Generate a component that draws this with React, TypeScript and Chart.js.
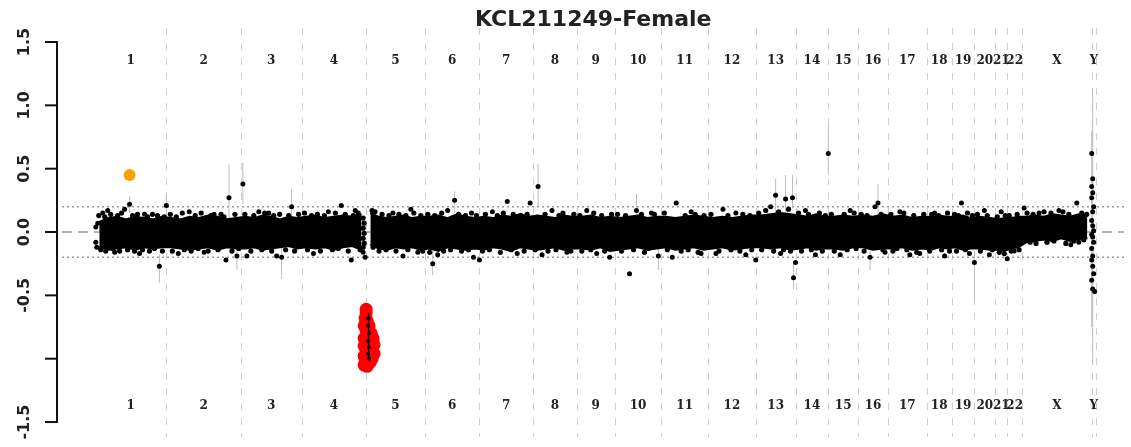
import React, { useEffect, useRef } from 'react';
import { Chart, registerables } from 'chart.js';

Chart.register(...registerables);

const TITLE = 'KCL211249-Female';

const chromosomes = ['1', '2', '3', '4', '5', '6', '7', '8', '9', '10', '11', '12', '13', '14', '15', '16', '17', '18', '19', '20', '21', '22', 'X', 'Y'];
// number of bins per chromosome
const chromosomeBins = [72, 75, 61, 65, 59, 55, 54, 44, 38, 47, 47, 48, 40, 33, 30, 30, 39, 25, 23, 21, 12, 15, 70, 4];

// upper / lower edge of the dense cloud of bins, per chromosome
const bandUpper: number[][] = [
  [0.08, 0.11, 0.12, 0.10, 0.12, 0.11, 0.10, 0.12],
  [0.11, 0.10, 0.12, 0.11, 0.13, 0.12, 0.10, 0.11],
  [0.12, 0.11, 0.13, 0.12, 0.10, 0.12, 0.11],
  [0.12, 0.13, 0.11, 0.12, 0.13, 0.12, 0.14],
  [0.15, 0.12, 0.11, 0.12, 0.13, 0.11, 0.12],
  [0.12, 0.13, 0.11, 0.14, 0.12, 0.11],
  [0.12, 0.11, 0.13, 0.12, 0.14, 0.12],
  [0.13, 0.12, 0.11, 0.13, 0.12],
  [0.12, 0.13, 0.11, 0.12],
  [0.11, 0.12, 0.13, 0.11, 0.12],
  [0.12, 0.11, 0.12, 0.13, 0.12],
  [0.11, 0.12, 0.11, 0.12, 0.13],
  [0.13, 0.14, 0.15, 0.14],
  [0.13, 0.12, 0.14, 0.12],
  [0.12, 0.13, 0.12],
  [0.13, 0.12, 0.14],
  [0.12, 0.13, 0.11, 0.12],
  [0.12, 0.13, 0.12],
  [0.12, 0.13, 0.11],
  [0.12, 0.11],
  [0.10, 0.11],
  [0.11, 0.12],
  [0.12, 0.13, 0.12, 0.14, 0.13, 0.12, 0.14, 0.13],
  [],
];
const bandLower: number[][] = [
  [-0.12, -0.14, -0.13, -0.12, -0.14, -0.12, -0.13, -0.12],
  [-0.12, -0.13, -0.14, -0.13, -0.12, -0.14, -0.12, -0.13],
  [-0.13, -0.12, -0.14, -0.13, -0.12, -0.11, -0.13],
  [-0.12, -0.13, -0.12, -0.14, -0.12, -0.11, -0.14],
  [-0.10, -0.13, -0.14, -0.12, -0.13, -0.12, -0.14],
  [-0.13, -0.15, -0.12, -0.13, -0.14, -0.13],
  [-0.14, -0.12, -0.13, -0.15, -0.12, -0.13],
  [-0.14, -0.13, -0.12, -0.14, -0.13],
  [-0.13, -0.14, -0.12, -0.15],
  [-0.14, -0.13, -0.12, -0.14, -0.13],
  [-0.12, -0.14, -0.13, -0.12, -0.14],
  [-0.13, -0.12, -0.14, -0.13, -0.12],
  [-0.12, -0.13, -0.12, -0.14],
  [-0.13, -0.12, -0.14, -0.13],
  [-0.13, -0.14, -0.12],
  [-0.12, -0.14, -0.13],
  [-0.13, -0.12, -0.14, -0.13],
  [-0.14, -0.12, -0.13],
  [-0.12, -0.14, -0.13],
  [-0.13, -0.14],
  [-0.14, -0.15],
  [-0.13, -0.12],
  [-0.08, -0.07, -0.06, -0.07, -0.05, -0.07, -0.06, -0.05],
  [],
];
const bandBreakAfter = ['4'];

// bins sitting on the rim of the dense cloud: [bin position, log2 ratio]
const rimBins: number[][] = [
  [4, 0.13], [6, -0.14], [10, 0.12], [11, -0.15], [16, 0.14], [18, -0.13], [23, 0.13], [25, -0.15], [27, 0.15], [33, -0.14], [38, 0.13], [40, -0.15], [43, 0.14], [48, -0.14], [53, 0.12], [55, -0.15], [58, 0.14], [60, -0.13], [63, 0.13], [68, -0.15], [70, 0.12],
  [76, 0.14], [78, -0.15], [82, 0.12], [88, 0.15], [90, -0.14], [97, -0.15], [101, 0.13], [104, -0.13], [107, 0.15], [114, -0.15], [117, 0.13], [124, -0.14], [127, 0.14], [130, 0.12], [138, -0.15], [141, 0.14], [145, -0.13],
  [151, 0.14], [157, -0.15], [160, 0.13], [168, -0.14], [171, 0.15], [178, -0.15], [180, 0.13], [186, 0.14], [192, -0.14], [195, 0.13], [201, -0.15], [205, 0.14],
  [211, 0.15], [214, -0.14], [218, 0.13], [224, 0.14], [227, -0.15], [231, 0.13], [239, -0.14], [242, 0.15], [245, -0.13], [252, 0.14], [255, -0.15], [260, 0.13], [265, 0.15], [267, -0.14],
  [270, 0.11], [271, 0.07], [270, 0.03], [271, -0.01], [270, -0.05], [271, -0.09], [270, -0.12],
  [279, 0.17], [280, -0.12], [286, -0.15], [289, 0.14], [293, -0.14], [296, 0.13], [303, -0.15], [306, 0.14], [313, 0.13], [315, -0.14], [321, 0.15], [328, 0.13], [330, -0.15],
  [335, 0.14], [337, -0.16], [342, 0.13], [349, 0.15], [351, -0.15], [358, -0.14], [366, 0.14], [369, -0.15], [373, 0.13], [376, -0.14], [379, 0.15], [384, 0.13],
  [390, -0.15], [393, 0.14], [397, -0.14], [405, 0.13], [408, -0.16], [411, 0.15], [419, -0.14], [421, 0.14], [429, 0.13], [432, -0.15], [435, 0.14],
  [443, -0.14], [453, 0.14], [456, -0.15], [464, -0.14], [467, 0.13], [471, 0.15], [479, -0.15], [482, 0.14],
  [488, 0.13], [490, -0.15], [499, -0.14], [502, 0.15], [510, 0.13], [513, -0.15], [520, 0.14],
  [526, 0.14], [530, -0.15], [534, 0.13], [542, -0.14], [550, 0.14], [553, -0.16], [557, -0.13], [563, 0.14],
  [573, 0.15], [576, -0.14], [590, -0.15], [594, 0.13], [597, -0.14], [604, 0.14], [607, -0.16], [613, 0.13],
  [620, 0.14], [628, -0.15], [637, 0.13], [640, -0.14], [649, -0.15], [652, 0.14], [659, 0.13], [661, -0.14],
  [668, 0.15], [671, -0.14], [675, 0.17], [683, -0.15], [688, 0.16], [693, -0.14], [698, 0.18], [700, -0.15],
  [708, 0.15], [711, -0.15], [718, 0.14], [721, -0.14], [729, 0.15], [732, -0.15], [735, 0.13],
  [741, 0.14], [744, -0.15], [754, 0.14], [757, -0.14], [764, 0.15], [766, -0.13],
  [771, 0.14], [774, -0.15], [777, 0.13], [791, 0.14], [793, -0.14],
  [801, 0.14], [803, -0.15], [807, -0.13], [814, 0.15], [817, -0.14], [824, 0.13], [827, -0.16], [834, 0.14],
  [840, -0.15], [842, 0.14], [849, 0.13], [852, -0.14], [858, 0.15], [860, -0.15],
  [865, 0.14], [867, -0.15], [869, 0.13], [876, -0.14], [878, 0.15], [883, 0.13],
  [888, 0.14], [891, -0.15], [898, 0.13], [903, -0.14],
  [908, 0.12], [910, -0.16], [915, -0.17], [916, 0.13],
  [920, 0.13], [922, -0.15], [928, 0.14], [930, -0.14],
  [938, 0.15], [941, -0.08], [944, 0.14], [947, -0.09], [955, 0.16], [958, -0.08], [962, 0.15], [965, -0.07], [974, 0.16], [977, -0.09], [980, 0.14], [985, -0.07], [993, 0.15], [995, -0.06], [998, 0.14],
];

// individual bins outside the dense cloud: [bin position, log2 ratio]
const binPoints: number[][] = [
  [1, 0.04], [1, -0.08], [2, -0.12], [3, 0.07], [8, 0.15], [13, 0.17], [20, -0.16], [30, 0.18], [35, 0.22], [45, -0.17], [50, 0.14], [65, -0.27], [72, 0.21],
  [84, -0.17], [95, 0.16], [110, -0.16], [120, 0.14], [132, -0.22], [135, 0.27], [143, -0.19], [149, 0.38],
  [153, -0.19], [165, 0.16], [175, 0.15], [183, -0.19], [188, -0.2], [198, 0.2],
  [220, -0.17], [235, 0.16], [248, 0.21], [258, -0.22], [262, 0.17], [270, -0.16], [272, -0.2],
  [282, 0.16], [300, 0.15], [310, -0.19], [318, 0.18], [325, -0.16],
  [340, -0.25], [345, -0.18], [355, 0.17], [362, 0.25], [381, -0.2], [387, -0.22],
  [400, 0.16], [415, 0.24], [425, -0.17], [438, 0.23], [446, 0.36],
  [450, -0.18], [460, 0.17], [475, -0.16],
  [495, 0.17], [505, -0.17], [518, -0.2],
  [538, -0.33], [545, 0.17], [560, 0.15], [567, -0.19],
  [581, -0.2], [585, 0.23], [600, 0.16], [610, -0.17],
  [625, -0.17], [632, 0.18], [645, 0.15], [655, -0.18], [665, -0.22],
  [680, 0.2], [685, 0.29], [690, -0.17], [695, 0.26], [702, 0.27], [703, -0.36], [705, -0.24],
  [715, 0.17], [725, -0.18], [738, 0.62],
  [750, -0.18], [760, 0.17],
  [780, -0.2], [785, 0.2], [788, 0.23], [795, -0.16],
  [810, 0.16], [820, -0.18], [830, -0.17],
  [845, 0.15], [855, -0.19],
  [872, 0.23], [880, -0.17], [885, -0.24],
  [895, 0.17], [900, -0.18],
  [912, 0.16], [918, -0.21],
  [925, -0.15], [935, 0.19],
  [950, 0.15], [970, 0.17], [982, -0.1], [988, 0.23], [990, -0.08],
  [1003, 0.62], [1004, 0.42], [1003, 0.36], [1004, 0.31], [1003, 0.27], [1005, 0.2], [1004, 0.16], [1003, 0.09], [1004, 0.05], [1005, 0.01],
  [1003, -0.02], [1004, -0.04], [1005, -0.08], [1003, -0.13], [1004, -0.19], [1003, -0.22], [1004, -0.27], [1005, -0.33], [1003, -0.38], [1004, -0.45], [1006, -0.47],
];

// error bars: [bin position, low, high]
const errorBars: number[][] = [
  [35, 0.15, 0.28], [65, -0.4, -0.18], [72, 0.15, 0.3], [135, 0.1, 0.54], [143, -0.3, -0.12], [149, 0.22, 0.55],
  [188, -0.37, -0.1], [198, 0.12, 0.34], [340, -0.34, -0.15], [362, 0.15, 0.32], [446, 0.2, 0.54], [545, 0.1, 0.3],
  [567, -0.3, -0.1], [685, 0.15, 0.42], [695, 0.15, 0.45], [702, 0.2, 0.45], [703, -0.45, -0.25], [738, 0.45, 0.85],
  [780, -0.3, -0.1], [788, 0.15, 0.38], [885, -0.54, -0.15], [1004, -1.05, 1.13], [1003, -0.75, 0.8],
];

// called loss segment (red), its bins, and a gain (orange)
const lossPoints: number[][] = [
  [273, -0.61], [273, -0.64], [272, -0.68], [274, -0.70], [271, -0.74], [276, -0.74], [273, -0.78], [278, -0.8], [271, -0.84], [280, -0.84],
  [275, -0.86], [281, -0.89], [271, -0.9], [278, -0.92], [273, -0.94], [281, -0.96], [271, -0.98], [276, -0.99], [279, -1.0], [272, -1.03],
  [277, -1.03], [274, -1.06], [271, -1.05],
];
const lossBins: number[][] = [
  [275, -0.68], [275, -0.74], [276, -0.8], [275, -0.86], [276, -0.91], [275, -0.96], [276, -1.0],
];
const lossErrorBars: number[][] = [[275.5, -1.02, -0.64]];
const gainPoints: number[][] = [[35, 0.45]];

const yTickValues = [1.5, 1.0, 0.5, 0.0, -0.5, -1.0, -1.5];
const yTickLabels = ['1.5', '1.0', '0.5', '0.0', '-0.5', '', '-1.5'];
const thresholds = [0.2, -0.2];
const baseline = 0;

const X_MIN = -33;
const X_MAX = 1036;
const Y_MIN = -1.618;
const Y_MAX = 1.6105;

const chromStarts: number[] = [];
chromosomeBins.forEach((len, i) => {
  chromStarts.push(i === 0 ? 0 : chromStarts[i - 1] + chromosomeBins[i - 1]);
});
const chromEnds = chromStarts.map((s, i) => s + chromosomeBins[i]);
const chromMids = chromStarts.map((s, i) => s + chromosomeBins[i] / 2);

const decorPlugin = {
  id: 'decor',
  beforeDatasetsDraw(chart: any) {
    const { ctx, chartArea, scales } = chart;
    const x = scales.x;
    ctx.save();
    ctx.strokeStyle = '#cfcfcf';
    ctx.lineWidth = 1;
    ctx.setLineDash([7, 8]);
    chromEnds.forEach((e) => {
      const px = Math.round(x.getPixelForValue(e)) + 0.5;
      ctx.beginPath();
      ctx.moveTo(px, chartArea.top);
      ctx.lineTo(px, chartArea.bottom);
      ctx.stroke();
    });
    ctx.restore();
  },
  afterDraw(chart: any) {
    const { ctx, chartArea, scales } = chart;
    const x = scales.x;
    const y = scales.y;
    ctx.save();
    const axisX = chartArea.left - 5;
    ctx.strokeStyle = '#111';
    ctx.lineWidth = 2;
    ctx.beginPath();
    ctx.moveTo(axisX, y.getPixelForValue(yTickValues[0]) - 1);
    ctx.lineTo(axisX, y.getPixelForValue(yTickValues[yTickValues.length - 1]) + 1);
    ctx.stroke();
    ctx.fillStyle = '#222';
    ctx.font = 'bold 16px "DejaVu Sans"';
    ctx.textAlign = 'center';
    ctx.textBaseline = 'middle';
    yTickValues.forEach((v, i) => {
      const py = y.getPixelForValue(v);
      ctx.beginPath();
      ctx.moveTo(axisX - 12, py);
      ctx.lineTo(axisX, py);
      ctx.stroke();
      if (yTickLabels[i]) {
        ctx.save();
        ctx.translate(axisX - 32, py);
        ctx.rotate(-Math.PI / 2);
        ctx.fillText(yTickLabels[i], 0, 0);
        ctx.restore();
      }
    });
    ctx.font = 'bold 12px "DejaVu Serif"';
    ctx.fillStyle = '#222';
    chromosomes.forEach((name, i) => {
      const px = x.getPixelForValue(chromMids[i]);
      ctx.fillText(name, px, chartArea.top + 33);
      ctx.fillText(name, px, chartArea.bottom - 31);
    });
    ctx.font = 'bold 22px "DejaVu Sans"';
    ctx.fillStyle = '#222';
    ctx.fillText(TITLE, (chartArea.left + chartArea.right) / 2, 20);
    ctx.restore();
  },
};

export default function App() {
  const canvasRef = useRef<HTMLCanvasElement | null>(null);

  useEffect(() => {
    if (!canvasRef.current) return;

    const upperData: any[] = [];
    const lowerData: any[] = [];
    chromosomes.forEach((name, i) => {
      const up = bandUpper[i];
      const lo = bandLower[i];
      const n = up.length;
      for (let k = 0; k < n; k++) {
        const px = chromStarts[i] + (chromosomeBins[i] * (k + 0.5)) / n;
        upperData.push({ x: px, y: up[k] });
        lowerData.push({ x: px, y: lo[k] });
      }
      if (bandBreakAfter.includes(name)) {
        upperData.push({ x: chromEnds[i], y: null });
        lowerData.push({ x: chromEnds[i], y: null });
      }
    });

    const toErr = (arr: number[][]) => {
      const out: any[] = [];
      arr.forEach(([p, lo, hi]) => {
        out.push({ x: p, y: lo });
        out.push({ x: p, y: hi });
        out.push({ x: p, y: null });
      });
      return out;
    };

    const toXY = (arr: number[][]) => arr.map(([p, v]) => ({ x: p, y: v }));

    const refLine = (v: number, dash: number[]) => ({
      type: 'line',
      data: [{ x: X_MIN, y: v }, { x: X_MAX, y: v }],
      borderColor: '#9a9a9a',
      borderWidth: 1.5,
      borderDash: dash,
      pointRadius: 0,
      fill: false,
      order: 20,
    });

    const chart = new Chart(canvasRef.current, {
      type: 'line',
      data: {
        datasets: [
          refLine(thresholds[0], [2, 3]),
          refLine(thresholds[1], [2, 3]),
          refLine(baseline, [10, 6]),
          {
            type: 'line',
            data: toErr(errorBars),
            borderColor: '#bdbdbd',
            borderWidth: 1,
            pointRadius: 0,
            spanGaps: false,
            fill: false,
            order: 15,
          },
          {
            type: 'line',
            data: upperData,
            borderColor: '#000',
            borderWidth: 2,
            backgroundColor: '#000',
            pointRadius: 0,
            spanGaps: false,
            fill: '+1',
            order: 10,
          },
          {
            type: 'line',
            data: lowerData,
            borderColor: '#000',
            borderWidth: 2,
            pointRadius: 0,
            spanGaps: false,
            fill: false,
            order: 10,
          },
          {
            type: 'line',
            showLine: false,
            data: toXY(rimBins),
            pointRadius: 2.6,
            pointBackgroundColor: '#000',
            pointBorderWidth: 0,
            order: 7,
          },
          {
            type: 'line',
            showLine: false,
            data: toXY(binPoints),
            pointRadius: 2.5,
            pointBackgroundColor: '#000',
            pointBorderWidth: 0,
            order: 6,
          },
          {
            type: 'line',
            showLine: false,
            data: toXY(lossPoints),
            pointRadius: 6.5,
            pointBackgroundColor: '#ff0000',
            pointBorderWidth: 0,
            order: 5,
          },
          {
            type: 'line',
            data: toErr(lossErrorBars),
            borderColor: '#300',
            borderWidth: 1.5,
            pointRadius: 0,
            spanGaps: false,
            fill: false,
            order: 4.5,
          },
          {
            type: 'line',
            showLine: false,
            data: toXY(lossBins),
            pointRadius: 2,
            pointBackgroundColor: '#000',
            pointBorderWidth: 0,
            order: 4,
          },
          {
            type: 'line',
            showLine: false,
            data: toXY(gainPoints),
            pointRadius: 6,
            pointBackgroundColor: '#ffa000',
            pointBorderWidth: 0,
            order: 3,
          },
        ] as any,
      },
      options: {
        animation: false,
        responsive: true,
        maintainAspectRatio: false,
        events: [],
        layout: { padding: { left: 62, top: 28, right: 0, bottom: 10 } },
        plugins: {
          legend: { display: false },
          title: { display: false },
          tooltip: { enabled: false },
        },
        scales: {
          x: { type: 'linear', display: false, min: X_MIN, max: X_MAX },
          y: { type: 'linear', display: false, min: Y_MIN, max: Y_MAX },
        },
      },
      plugins: [decorPlugin],
    });

    return () => chart.destroy();
  }, []);

  return (
    <div style={{ position: 'fixed', left: 0, top: 0, width: 1131, height: 447, background: '#fff' }}>
      <canvas ref={canvasRef} />
    </div>
  );
}
